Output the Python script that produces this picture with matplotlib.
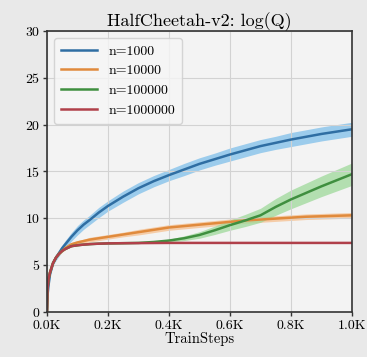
import matplotlib
matplotlib.use("Agg")
import matplotlib.pyplot as plt
import numpy as np

steps = [0, 2, 5, 10, 20, 30, 40, 50, 60, 80, 100, 120, 140, 170, 200, 250, 300,
         350, 400, 450, 500, 550, 600, 650, 700, 750, 800, 850, 900, 950, 1000]

q_n1000 = [0, 1.8, 2.8, 4.0, 5.2, 5.8, 6.3, 6.8, 7.2, 8.0, 8.7, 9.3, 9.8, 10.6, 11.3, 12.3, 13.2,
           13.95, 14.6, 15.2, 15.8, 16.3, 16.8, 17.25, 17.7, 18.05, 18.4, 18.7, 19.0, 19.25, 19.5]
sd_n1000 = [0, 0.1, 0.15, 0.2, 0.25, 0.3, 0.35, 0.35, 0.4, 0.45, 0.5, 0.5, 0.5, 0.55, 0.55, 0.6, 0.6,
            0.6, 0.6, 0.65, 0.65, 0.65, 0.7, 0.7, 0.7, 0.7, 0.75, 0.75, 0.75, 0.75, 0.75]

q_n10000 = [0, 2.5, 3.5, 4.2, 5.2, 5.8, 6.2, 6.5, 6.8, 7.2, 7.4, 7.55, 7.7, 7.85, 8.0, 8.25, 8.5,
            8.75, 9.0, 9.15, 9.3, 9.45, 9.6, 9.75, 9.85, 9.95, 10.05, 10.15, 10.2, 10.25, 10.3]
sd_n10000 = [0, 0.05, 0.05, 0.1, 0.1, 0.1, 0.15, 0.15, 0.2, 0.2, 0.2, 0.2, 0.25, 0.25, 0.25, 0.25, 0.3,
             0.3, 0.3, 0.3, 0.3, 0.3, 0.3, 0.3, 0.3, 0.3, 0.3, 0.3, 0.3, 0.3, 0.3]

q_n100000 = [0, 2.5, 3.5, 4.2, 5.2, 5.8, 6.2, 6.5, 6.7, 7.0, 7.1, 7.17, 7.22, 7.27, 7.3, 7.32, 7.35,
             7.45, 7.6, 7.85, 8.2, 8.7, 9.25, 9.75, 10.3, 11.2, 12.0, 12.7, 13.4, 14.05, 14.7]
sd_n100000 = [0, 0.05, 0.05, 0.05, 0.05, 0.05, 0.05, 0.05, 0.05, 0.05, 0.05, 0.05, 0.05, 0.05, 0.05, 0.05, 0.05,
              0.1, 0.15, 0.25, 0.35, 0.45, 0.55, 0.65, 0.75, 0.9, 1.0, 1.05, 1.1, 1.15, 1.2]

q_n1000000 = [0, 2.5, 3.5, 4.2, 5.2, 5.8, 6.2, 6.5, 6.7, 7.0, 7.1, 7.17, 7.22, 7.27, 7.3, 7.32, 7.33,
              7.34, 7.35, 7.35, 7.35, 7.35, 7.35, 7.35, 7.35, 7.35, 7.35, 7.35, 7.35, 7.35, 7.35]
sd_n1000000 = [0.05] * len(steps)

labels = ["n=1000", "n=10000", "n=100000", "n=1000000"]
x_ticks = [0, 200, 400, 600, 800, 1000]
x_tick_labels = ["0.0K", "0.2K", "0.4K", "0.6K", "0.8K", "1.0K"]
y_ticks = [0, 5, 10, 15, 20, 25, 30]

plt.rcParams["font.family"] = ["cmr10", "DejaVu Serif"]
plt.rcParams["axes.formatter.use_mathtext"] = True

fig = plt.figure(figsize=(3.67, 3.57), dpi=100, facecolor="#e9e9e9")
ax = fig.add_axes([0.128, 0.127, 0.831, 0.786])
ax.set_facecolor("#f3f3f3")

series = [
    (q_n1000, sd_n1000, "#2f6ea3", "#7fbfea"),
    (q_n10000, sd_n10000, "#e08a3c", "#f6c08f"),
    (q_n100000, sd_n100000, "#3f8f3f", "#9ed99a"),
    (q_n1000000, sd_n1000000, "#b0404a", "#e3a0a5"),
]

x = np.array(steps)
for (mean, sd, line_c, band_c), label in zip(series, labels):
    mean = np.array(mean)
    sd = np.array(sd)
    ax.fill_between(x, mean - sd, mean + sd, color=band_c, alpha=0.75, lw=0)
    ax.plot(x, mean, color=line_c, lw=1.8, label=label)

ax.set_xlim(0, 1000)
ax.set_ylim(0, 30)
ax.set_xticks(x_ticks)
ax.set_xticklabels(x_tick_labels)
ax.set_yticks(y_ticks)
ax.tick_params(labelsize=10, length=3, width=1, color="#333333")
ax.tick_params(axis="x", pad=3)
ax.tick_params(axis="y", pad=2)
ax.grid(True, color="#d2d2d2", lw=0.8)
for s in ax.spines.values():
    s.set_color("#333333")
    s.set_linewidth(1.2)

ax.set_title("HalfCheetah-v2: log(Q)", fontsize=13, pad=3)
ax.set_xlabel("TrainSteps", fontsize=10.5, labelpad=0)

leg = ax.legend(loc="upper left", fontsize=10, handlelength=2.6, borderpad=0.5,
                labelspacing=0.5, frameon=True, fancybox=True)
leg.get_frame().set_facecolor("#f6f6f6")
leg.get_frame().set_edgecolor("#cccccc")

fig.savefig("out.png", dpi=100, facecolor=fig.get_facecolor())
